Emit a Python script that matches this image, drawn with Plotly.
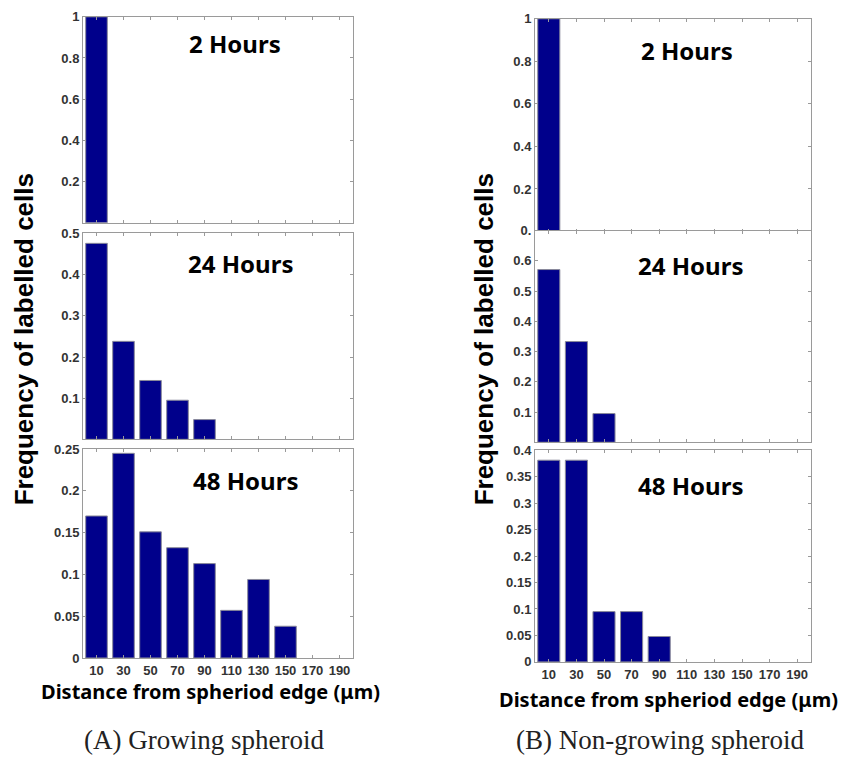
import plotly.graph_objects as go

W, H = 844, 765

distance_bins = ["10", "30", "50", "70", "90", "110", "130", "150", "170", "190"]

# (A) Growing spheroid
growing_2h = [1.0, 0, 0, 0, 0, 0, 0, 0, 0, 0]
growing_24h = [0.476, 0.238, 0.143, 0.095, 0.048, 0, 0, 0, 0, 0]
growing_48h = [0.170, 0.245, 0.151, 0.132, 0.113, 0.057, 0.094, 0.038, 0, 0]

# (B) Non-growing spheroid
nongrowing_2h = [1.0, 0, 0, 0, 0, 0, 0, 0, 0, 0]
nongrowing_24h = [0.571, 0.333, 0.095, 0, 0, 0, 0, 0, 0, 0]
nongrowing_48h = [0.381, 0.381, 0.095, 0.095, 0.048, 0, 0, 0, 0, 0]

panel_titles = ["2 Hours", "24 Hours", "48 Hours"]
y_title = "Frequency of labelled cells"
x_title = "Distance from spheriod edge (μm)"
captions = ["(A) Growing spheroid", "(B) Non-growing spheroid"]

BAR = "#00008B"
FRAME = "#9a9a9a"
TICKFONT = dict(family="Liberation Sans, Arial, sans-serif", size=13, color="#333333", weight="bold")


def px_x(p):
    return p / W


def px_y(p):
    return 1 - p / H


panels = [
    dict(x=(83, 353), y=(10, 220), data=growing_2h, rng=[0, 1],
         tv=[0.2, 0.4, 0.6, 0.8, 1], tt=["0.2", "0.4", "0.6", "0.8", "1"], xlab=False,
         title_xy=(235, 37)),
    dict(x=(83, 353), y=(231, 441), data=growing_24h, rng=[0, 0.5],
         tv=[0.1, 0.2, 0.3, 0.4, 0.5], tt=["0.1", "0.2", "0.3", "0.4", "0.5"], xlab=False,
         title_xy=(240, 262)),
    dict(x=(83, 353), y=(451, 664), data=growing_48h, rng=[0, 0.25],
         tv=[0, 0.05, 0.1, 0.15, 0.2, 0.25], tt=["0", "0.05", "0.1", "0.15", "0.2", "0.25"], xlab=True,
         title_xy=(245, 483)),
    dict(x=(535, 811), y=(12, 229), data=nongrowing_2h, rng=[0, 1],
         tv=[0.2, 0.4, 0.6, 0.8, 1], tt=["0.2", "0.4", "0.6", "0.8", "1"], xlab=False,
         title_xy=(687, 44)),
    dict(x=(535, 811), y=(228, 444), data=nongrowing_24h, rng=[0, 0.7],
         tv=[0.1, 0.2, 0.3, 0.4, 0.5, 0.6, 0.7], tt=["0.1", "0.2", "0.3", "0.4", "0.5", "0.6", "0."], xlab=False,
         title_xy=(690, 264)),
    dict(x=(535, 811), y=(452, 668), data=nongrowing_48h, rng=[0, 0.4],
         tv=[0, 0.05, 0.1, 0.15, 0.2, 0.25, 0.3, 0.35, 0.4],
         tt=["0", "0.05", "0.1", "0.15", "0.2", "0.25", "0.3", "0.35", "0.4"], xlab=True,
         title_xy=(690, 488)),
]

fig = go.Figure()
annotations = []

for i, p in enumerate(panels):
    n = "" if i == 0 else str(i + 1)
    yvals = [v if v > 0 else None for v in p["data"]]
    fig.add_trace(go.Bar(
        x=distance_bins, y=yvals, xaxis="x" + n, yaxis="y" + n,
        marker=dict(color=BAR, line=dict(color="#8a8a9a", width=1)),
        width=0.8, showlegend=False, hoverinfo="x+y",
    ))
    xa = dict(
        domain=[px_x(p["x"][0]), px_x(p["x"][1])], anchor="y" + n,
        type="category", categoryorder="array", categoryarray=distance_bins,
        range=[-0.5, 9.5], showline=True, linecolor=FRAME, linewidth=1, mirror="allticks",
        ticks="inside", ticklen=3, tickcolor=FRAME, showgrid=False, zeroline=False,
        showticklabels=p["xlab"], tickfont=TICKFONT, fixedrange=True,
    )
    ya = dict(
        domain=[px_y(p["y"][1]), px_y(p["y"][0])], anchor="x" + n,
        range=p["rng"], tickvals=p["tv"], ticktext=p["tt"],
        showline=True, linecolor=FRAME, linewidth=1, mirror="allticks",
        ticks="inside", ticklen=3, tickcolor=FRAME, showgrid=False, zeroline=False,
        tickfont=TICKFONT, fixedrange=True,
    )
    fig.update_layout(**{"xaxis" + n: xa, "yaxis" + n: ya})
    annotations.append(dict(
        text=panel_titles[i % 3], x=px_x(p["title_xy"][0]), y=px_y(p["title_xy"][1]),
        xref="paper", yref="paper", showarrow=False, xanchor="center", yanchor="middle",
        font=dict(family="Noto Sans, sans-serif", size=24, color="black", weight="bold"),
    ))

for xc in (24, 484):
    annotations.append(dict(
        text=y_title, x=px_x(xc), y=px_y(339), xref="paper", yref="paper",
        showarrow=False, textangle=-90, xanchor="center", yanchor="middle",
        font=dict(family="Liberation Sans, Arial, sans-serif", size=26, color="black", weight="bold"),
    ))

for xc, yc in ((210, 698), (668, 706)):
    annotations.append(dict(
        text=x_title, x=px_x(xc), y=px_y(yc), xref="paper", yref="paper",
        showarrow=False, xanchor="center", yanchor="middle",
        font=dict(family="Noto Sans, sans-serif", size=20, color="black", weight="bold"),
    ))

for xc, txt in ((204, captions[0]), (660, captions[1])):
    annotations.append(dict(
        text=txt, x=px_x(xc), y=px_y(748), xref="paper", yref="paper",
        showarrow=False, xanchor="center", yanchor="middle",
        font=dict(family="Liberation Serif, serif", size=27, color="#222222"),
    ))

fig.update_layout(
    autosize=True, margin=dict(l=0, r=0, t=0, b=0),
    paper_bgcolor="white", plot_bgcolor="white",
    bargap=0.2, annotations=annotations,
)

fig.write_html(
    "out.html",
    default_width="100vw", default_height="100vh",
    config={"displayModeBar": False, "responsive": True},
    post_script="document.body.style.margin='0';document.body.style.overflow='hidden';"
                "window.dispatchEvent(new Event('resize'));",
)
